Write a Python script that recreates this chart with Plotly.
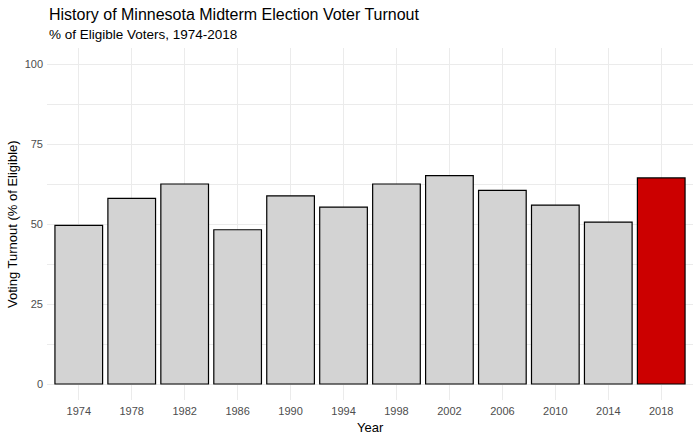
import plotly.graph_objects as go

# Minnesota midterm turnout, % of eligible voters
years = ["1974", "1978", "1982", "1986", "1990", "1994",
         "1998", "2002", "2006", "2010", "2014", "2018"]
turnout = [49.6, 58.0, 62.5, 48.2, 58.8, 55.3,
           62.5, 65.1, 60.5, 55.9, 50.6, 64.4]
highlight_year = "2018"

y_ticks = [0, 25, 50, 75, 100]
y_minor = [12.5, 37.5, 62.5, 87.5]

bar_colors = ["#CC0000" if y == highlight_year else "#D3D3D3" for y in years]

FONT = "Liberation Sans, Arial, sans-serif"
GRID = "#EBEBEB"

fig = go.Figure(go.Bar(
    x=years, y=turnout, width=0.9,
    marker=dict(color=bar_colors, line=dict(color="black", width=1.2)),
))

fig.update_layout(
    width=700, height=441,
    margin=dict(l=47, r=7, t=48, b=41),
    plot_bgcolor="white", paper_bgcolor="white",
    showlegend=False,
    font=dict(family=FONT),
)

fig.update_xaxes(
    type="category", range=[-0.6, len(years) - 0.4],
    showgrid=True, gridcolor=GRID, gridwidth=1,
    showline=False, ticks="", zeroline=False,
    ticklabelstandoff=3,
    tickfont=dict(size=11, color="#4D4D4D"),
)
fig.update_yaxes(
    range=[-5, 105], tickvals=y_ticks, ticktext=[str(v) for v in y_ticks],
    showgrid=True, gridcolor=GRID, gridwidth=1,
    minor=dict(tickvals=y_minor, showgrid=True, gridcolor=GRID, gridwidth=0.5),
    showline=False, ticks="", zeroline=False,
    ticklabelstandoff=3,
    tickfont=dict(size=11, color="#4D4D4D"),
)

annotations = [
    dict(text="History of Minnesota Midterm Election Voter Turnout",
         xref="paper", yref="paper", x=0, y=1, xanchor="left", yanchor="middle",
         yshift=34, showarrow=False, font=dict(size=16, color="black")),
    dict(text="% of Eligible Voters, 1974-2018",
         xref="paper", yref="paper", x=0, y=1, xanchor="left", yanchor="middle",
         yshift=14, showarrow=False, font=dict(size=13.5, color="black")),
    dict(text="Year",
         xref="paper", yref="paper", x=0.5, y=0, xanchor="center", yanchor="middle",
         yshift=-27, showarrow=False, font=dict(size=13, color="black")),
    dict(text="Voting Turnout (% of Eligible)",
         xref="paper", yref="paper", x=0, y=0.5, xanchor="center", yanchor="middle",
         xshift=-35, textangle=-90, showarrow=False, font=dict(size=13, color="black")),
]
fig.update_layout(annotations=annotations)

# drop the default 8px page margin so the figure sits at the window's corner
fig.write_html("out.html", config={"displayModeBar": False},
               post_script="document.body.style.margin='0';")
